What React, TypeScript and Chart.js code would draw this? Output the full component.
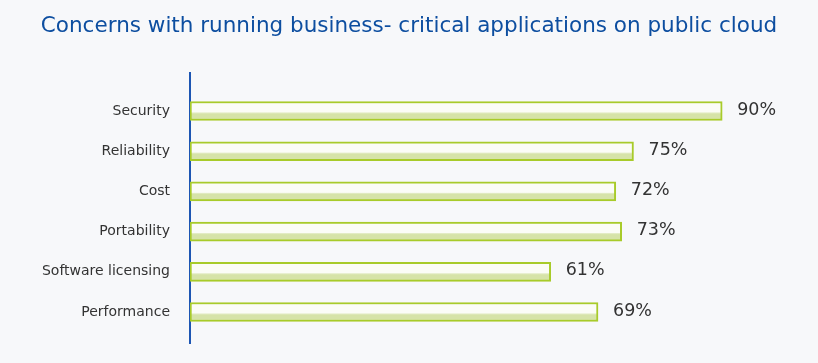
import React, { useEffect, useRef } from "react";
import { Chart, registerables } from "chart.js";

Chart.register(...registerables);

const title = "Concerns with running business- critical applications on public cloud";
const categories = ["Security", "Reliability", "Cost", "Portability", "Software licensing", "Performance"];
const values = [90, 75, 72, 73, 61, 69];
const positions = [0, 1, 2, 3, 4, 5];

const FONT = "'DejaVu Sans', sans-serif";
const BAR_THICK = 19;

export default function App() {
  const ref = useRef<HTMLCanvasElement>(null);
  useEffect(() => {
    document.body.style.margin = "0";
    const canvas = ref.current!;
    const valueLabels = {
      id: "valueLabels",
      afterDatasetsDraw(chart: any) {
        const ctx = chart.ctx;
        const meta = chart.getDatasetMeta(0);
        ctx.save();
        ctx.font = `17.5px ${FONT}`;
        ctx.fillStyle = "#333333";
        ctx.textBaseline = "middle";
        ctx.textAlign = "left";
        meta.data.forEach((el: any, i: number) => {
          ctx.fillText(`${values[i]}%`, el.x + 15, el.y - 1);
        });
        ctx.restore();
      },
    };
    const chart = new Chart(canvas, {
      type: "bar",
      data: {
        datasets: [
          {
            data: positions.map((p, i) => ({ x: values[i], y: p })),
            barThickness: BAR_THICK,
            borderWidth: 2,
            borderSkipped: false,
            borderColor: "#a8cb2a",
            backgroundColor: (c: any) => {
              const chart = c.chart;
              const ys = chart.scales?.y;
              if (!ys || c.dataIndex === undefined) return "#fbfcf6";
              const yc = ys.getPixelForValue(positions[c.dataIndex]);
              if (!isFinite(yc)) return "#fbfcf6";
              const top = yc - BAR_THICK / 2;
              const g = chart.ctx.createLinearGradient(0, top, 0, top + BAR_THICK);
              g.addColorStop(0, "#fbfcf7");
              g.addColorStop(0.55, "#fbfcf7");
              g.addColorStop(0.6, "#e2ebc3");
              g.addColorStop(0.66, "#d6e3a8");
              g.addColorStop(1, "#d6e3a8");
              return g;
            },
          },
        ],
      },
      options: {
        indexAxis: "y",
        animation: false,
        responsive: false,
        events: [],
        layout: { padding: { left: 0, right: 0, top: 0, bottom: 20 } },
        plugins: {
          legend: { display: false },
          tooltip: { enabled: false },
          title: {
            display: true,
            text: title,
            color: "#0d4ea0",
            font: { family: FONT, size: 21.5, weight: "normal", lineHeight: 1.2 },
            padding: { top: 14, bottom: 33 },
          },
        },
        scales: {
          x: {
            type: "linear",
            display: false,
            min: 0,
            max: 106.2,
          },
          y: {
            type: "linear",
            reverse: true,
            offset: false,
            min: -0.95,
            max: 5.77,
            grid: { display: false, drawTicks: false },
            border: { display: true, color: "#1d56b3", width: 2 },
            afterFit: (scale: any) => {
              scale.width = 190;
              scale.paddingTop = 0;
              scale.paddingBottom = 0;
            },
            ticks: {
              stepSize: 1,
              autoSkip: false,
              includeBounds: false,
              padding: 20,
              color: "#333333",
              font: { family: FONT, size: 14 },
              callback: (v: any) => {
                const i = positions.indexOf(Number(v));
                return i >= 0 ? categories[i] : "";
              },
            },
          },
        },
      },
      plugins: [valueLabels],
    });
    chart.update();
    return () => chart.destroy();
  }, []);
  return (
    <div style={{ width: 818, height: 363, background: "#f7f8fa" }}>
      <canvas ref={ref} width={818} height={363} style={{ display: "block" }} />
    </div>
  );
}
